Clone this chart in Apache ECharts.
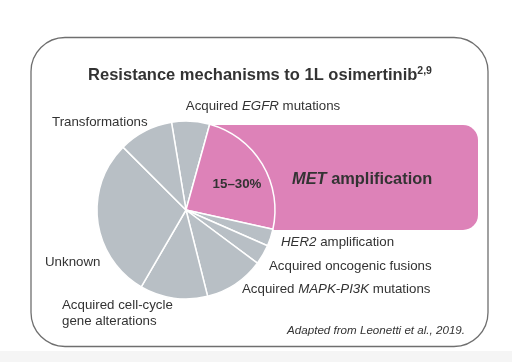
<!DOCTYPE html>
<html>
<head>
<meta charset="utf-8">
<script src="https://cdn.jsdelivr.net/npm/echarts@6/dist/echarts.min.js"></script>
<style>
html,body{margin:0;padding:0;background:#fff;}
#c{width:512px;height:362px;}
</style>
</head>
<body>
<div id="c"></div>
<script>
// Data (percent share of each resistance mechanism)
var categories = ['Acquired EGFR mutations', 'MET amplification', 'HER2 amplification',
  'Acquired oncogenic fusions', 'Acquired MAPK-PI3K mutations',
  'Acquired cell-cycle gene alterations', 'Unknown', 'Transformations'];
var values = [6.9, 24.2, 3.1, 3.6, 10.9, 12.3, 29.1, 9.9];
var highlightCategory = 'MET amplification';
var highlightLabel = '15–30%';
var titleText = 'Resistance mechanisms to 1L osimertinib';
var titleSup = '2,9';
var sourceText = 'Adapted from Leonetti et al., 2019.';

var GRAY = '#B8BFC5';
var PINK = '#DD82B8';
var FONT = 'Liberation Sans, Arial, sans-serif';
var LFS = 13.3;

var chart = echarts.init(document.getElementById('c'), null, {renderer: 'canvas'});

var pieData = categories.map(function (c, i) {
  return {name: c, value: values[i], itemStyle: {color: c === highlightCategory ? PINK : GRAY}};
});

function txt(x, y, text, rich, extra) {
  return {
    type: 'text', x: x, y: y, z: 100,
    style: Object.assign({text: text, rich: rich, fill: '#333', font: '12px ' + FONT, textVerticalAlign: 'middle'}, extra || {})
  };
}
var richN = {
  n: {fontSize: LFS, fontFamily: FONT, color: '#2a2a2a'},
  i: {fontSize: LFS, fontFamily: FONT, color: '#2a2a2a', fontStyle: 'italic'}
};

chart.setOption({
  animation: false,
  backgroundColor: '#fff',
  graphic: [
    {type: 'rect', z: 0, shape: {x: 0, y: 351, width: 512, height: 11}, style: {fill: '#f5f5f5'}},
    {type: 'rect', z: 0, shape: {x: 31, y: 37.5, width: 457, height: 309, r: 34},
      style: {fill: '#fff', stroke: '#6f6f6f', lineWidth: 1.3}},
    {type: 'rect', z: 1, shape: {x: 195, y: 125, width: 283, height: 105, r: 15},
      style: {fill: PINK}},
    txt(260, 75, '{b|' + titleText + '}{s|' + titleSup + '}', {
      b: {fontSize: 16.5, fontWeight: 'bold', fontFamily: FONT, color: '#111'},
      s: {fontSize: 10.5, fontWeight: 'bold', fontFamily: FONT, color: '#111', padding: [0, 0, 8, 0]}
    }, {textAlign: 'center'}),
    txt(263, 106, '{n|Acquired }{i|EGFR}{n| mutations}', richN, {textAlign: 'center'}),
    txt(52, 122, '{n|Transformations}', richN),
    txt(45, 262, '{n|Unknown}', richN),
    txt(62, 305, '{n|Acquired cell-cycle}', richN),
    txt(62, 321, '{n|gene alterations}', richN),
    txt(281, 242, '{i|HER2}{n| amplification}', richN),
    txt(269, 266, '{n|Acquired oncogenic fusions}', richN),
    txt(242, 289, '{n|Acquired }{i|MAPK-PI3K}{n| mutations}', richN),
    txt(465, 331, '{s|' + sourceText + '}', {
      s: {fontSize: 11.6, fontStyle: 'italic', fontFamily: FONT, color: '#666'}
    }, {textAlign: 'right'}),
    txt(292, 179, '{i|MET}{n| amplification}', {
      n: {fontSize: 16.4, fontWeight: 'bold', fontFamily: FONT, color: '#111'},
      i: {fontSize: 16.4, fontWeight: 'bold', fontStyle: 'italic', fontFamily: FONT, color: '#111'}
    }),
    txt(237, 184, '{b|' + highlightLabel + '}', {
      b: {fontSize: 13.3, fontWeight: 'bold', fontFamily: FONT, color: '#111'}
    }, {textAlign: 'center'})
  ],
  series: [{
    type: 'pie',
    z: 5,
    center: [186, 210],
    radius: [0, 89],
    startAngle: 99.4,
    clockwise: true,
    silent: true,
    label: {show: false},
    labelLine: {show: false},
    itemStyle: {borderColor: '#fff', borderWidth: 1.5},
    data: pieData
  }]
});
</script>
</body>
</html>
